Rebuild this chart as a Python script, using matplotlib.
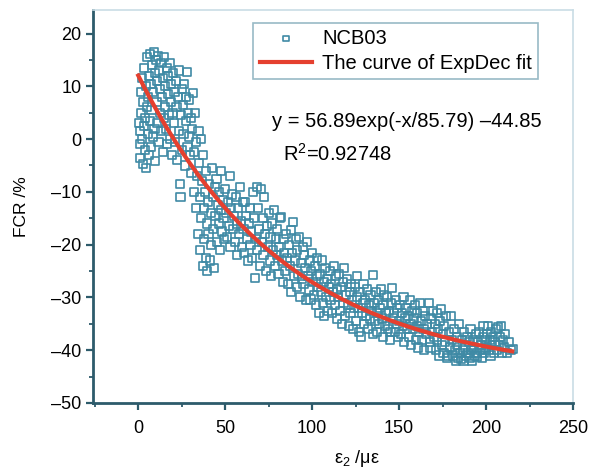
import numpy as np
import matplotlib
matplotlib.use('Agg')
import matplotlib.pyplot as plt
from matplotlib.ticker import MultipleLocator

plt.rcParams['font.family'] = ['Liberation Sans', 'DejaVu Sans']

x_pts = [
    0.5, 0.8, 1, 1.2, 1.5, 1.8, 2, 2.2, 2.5, 3, 3.2, 3.5, 3.8, 4, 4.3, 4.6, 4.8,
    5.2, 5.5, 5.8, 6, 6.3, 6.5, 6.8, 7, 7.3, 7.6, 8, 8.3, 8.6, 9, 9.3, 9.6, 9.8,
    10.2, 10.5, 10.8, 11, 11.3, 11.6, 12, 12.3, 12.6, 13, 13.3, 13.6, 14, 14.3, 14.7,
    15, 15.3, 15.6, 16, 16.3, 16.6, 17, 17.3, 17.6, 18, 18.4, 18.7, 19, 19.4, 19.7,
    20, 20.4, 20.8, 21.2, 21.6, 22, 22.4, 22.8, 23.2, 23.6, 24, 24.3, 24.6, 25, 25.3,
    25.7, 26, 26.4, 26.8, 27.2, 27.6, 28, 28.3, 28.7, 29, 29.4, 29.8,
    30.2, 30.6, 31, 31.4, 31.8, 32.2, 32.6, 33, 33.4, 33.8, 34.2, 34.6, 35,
    35.3, 35.6, 36, 36.3, 36.6, 37, 37.3, 37.6, 38, 38.3, 38.7, 39, 39.3, 39.7,
    40, 40.4, 40.8, 41.2, 41.6, 42, 42.4, 42.8, 43.2, 43.6, 44, 44.4,
    45, 45.4, 45.8, 46.2, 46.6, 47, 47.4, 47.8, 48.2, 48.6, 49, 49.5,
    50, 50.5, 51, 51.5, 52, 52.5, 53, 53.5, 54, 54.5,
    55, 55.5, 56, 56.5, 57, 57.5, 58, 58.5, 59, 59.5,
    60, 60.5, 61, 61.6, 62, 62.5, 63, 63.5, 64, 64.5,
    65, 65.5, 66, 66.5, 67, 67.5, 68, 68.5, 69, 69.5,
    70, 70.5, 71, 71.5, 72, 72.5, 73, 73.5, 74, 74.5,
    75, 75.6, 76, 76.5, 77, 77.5, 78, 78.5, 79, 79.5,
    80, 80.6, 81, 81.5, 82, 82.5, 83, 83.5, 84, 84.5,
    85, 85.5, 86, 86.5, 87, 87.6, 88, 88.5, 89, 89.5,
    90, 90.5, 91, 91.5, 92, 92.5, 93, 93.5, 94, 94.5,
    95, 95.5, 96, 96.5, 97, 97.5, 98, 98.5, 99, 99.5,
    100, 100.5, 101, 101.5, 102, 102.5, 103, 103.5, 104, 104.5,
    105, 105.5, 106, 106.6, 107, 107.5, 108, 108.5, 109, 109.5,
    110, 110.5, 111, 111.5, 112, 112.5, 113, 113.5, 114, 114.5,
    115, 115.5, 116, 116.5, 117, 117.5, 118, 118.5, 119, 119.5,
    120, 120.5, 121, 121.5, 122, 122.5, 123, 123.5, 124, 124.5,
    125, 125.5, 126, 126.5, 127, 127.5, 128, 128.5, 129, 129.5,
    130, 130.5, 131, 131.5, 132, 132.5, 133, 133.5, 134, 134.8,
    135, 135.5, 136, 136.5, 137, 137.5, 138, 138.5, 139, 139.5,
    140, 140.5, 141, 141.5, 142, 142.5, 143, 143.5, 144, 144.5,
    145, 145.5, 146, 146.5, 147, 147.5, 148, 148.5, 149, 149.5,
    150, 150.5, 151, 151.5, 152, 152.5, 153, 153.5, 154, 154.5,
    155, 155.5, 156, 156.5, 157, 157.5, 158, 158.5, 159, 159.5,
    160, 160.5, 161, 161.5, 162, 162.5, 163, 163.5, 164, 164.5,
    165, 165.5, 166, 167, 167.5, 168, 168.5, 169, 169.5,
    170, 170.5, 171, 171.5, 172, 172.5, 173, 173.5, 174, 174.5,
    175, 175.5, 176, 176.5, 177, 177.5, 178, 178.5, 179, 180,
    180.5, 181, 181.5, 182, 182.5, 183, 183.5, 184, 184.5, 185,
    185.5, 186, 186.5, 187, 187.5, 188, 188.5, 189, 189.5,
    190, 190.5, 191, 191.5, 192, 192.5, 193, 193.5, 194, 194.5,
    195, 195.5, 196, 196.5, 197, 197.5, 198, 198.5, 199, 199.5,
    200, 200.5, 201, 201.5, 202, 202.5, 203, 203.5, 204, 204.5,
    205, 205.5, 206, 207, 207.5, 208, 208.5, 209, 209.5,
    210.5, 211, 212, 213, 214, 215.5,
]
y_pts = [
    3, -1, 1.5, -3.5, 5, 9, 11.5, 0, -4.8, 7, 2.5, 13.5, -2, 4, 10, -5.5, 6,
    15.5, 1, 8, 12, -3, 3.5, 16.2, 10.5, -1.5, 5.5, 14, 0.5, 9, 16.5, 2, 12.5, -4.2,
    15, 7, 11, 3, 15.8, -0.5, 13, 5, 9.5, 1.5, 14.5, 8, -2.5, 11.5, 4,
    15.5, 6, 10, 2, 13.5, -1, 8.5, 12, 4.5, 14.5, 0, 7, 10.5, -3, 5,
    12.5, 3, 9, -0.5, 11, 6, -4, 8, 1.5, 13, -8.5, -11, 4.5, 9.5, -2,
    6.5, 1, 10.5, -5, 3.5, 8, 12.8, -1.5, 5, 0.5, 7.5, -3,
    4, -6.5, 2, 8.7, -2.5, -10, 5, -0.5, -13, -7, -18, 1.5, -4.5,
    -11, -21, 0, -15, -8, -24, -3, -13, -19, -10, -22.5, -6, -16, -25,
    -12, -18, -8.5, -23, -14, -20, -5.5, -11, -17, -24.5, -9, -14.5,
    -7.5, -19.5, -12.5, -16, -10, -21, -13.5, -6, -17.5, -11.5, -15, -19,
    -9.5, -14, -18.5, -12, -16.5, -7, -20.5, -13, -10.5, -17,
    -14.5, -19.5, -11, -16, -22, -13, -18, -9, -15.5, -20.5,
    -12, -17, -21.5, -12, -14.5, -19, -23, -16, -13, -20,
    -17.5, -22.5, -10, -15, -26.3, -19, -9, -21, -13, -17,
    -24, -9.5, -19.5, -15, -22, -11, -18, -25, -16.5, -20.5,
    -14, -23, -18.5, -26, -16, -21, -13.5, -24, -19, -22,
    -17, -25.5, -20.5, -15, -14.8, -23, -27, -19, -21.5, -25,
    -18, -22.5, -27.5, -20, -24, -17.3, -29, -21.5, -15.7, -26,
    -23, -19, -28, -21, -25.5, -18.5, -30, -23.5, -26.5, -20.5,
    -27.5, -22, -24.5, -30.5, -19.5, -26, -28.5, -23, -30.4, -25,
    -21.5, -27, -29.5, -24, -31.5, -26, -22.5, -28, -33, -25.5,
    -29, -23, -31, -33.6, -27, -24.5, -30, -26.5, -32.5, -28,
    -25, -30.5, -27.5, -33, -29, -24, -31.5, -26, -34, -28.5,
    -30, -25.5, -32.5, -28, -35, -27, -31, -24.5, -33.5, -29.5,
    -26.5, -31.5, -35.5, -29, -33, -27.5, -30.5, -36, -32, -28,
    -34.5, -30, -26, -32, -36.5, -29, -37.4, -33, -31, -27.5,
    -35, -30.5, -33.5, -28.5, -36, -31.5, -34, -29.5, -32.5, -25.7,
    -37, -31, -34.5, -29, -33, -36.5, -30.5, -35, -32, -28.5,
    -34, -37.5, -31.5, -29.5, -35.5, -33, -30, -36, -32.5, -38,
    -36.6, -31, -28.2, -34, -33, -36.5, -30.5, -35, -32, -37.5,
    -34.5, -31.5, -37, -33, -35.5, -30, -38.5, -34, -32, -36,
    -33.5, -37.5, -30.5, -35, -39, -32.5, -36, -34, -31.5, -38,
    -35.5, -33, -39.5, -36.5, -31, -34.5, -38, -32.5, -36, -40,
    -33.5, -37, -35, -31, -38.5, -39.5, -34, -36.5, -32.5,
    -37.5, -35, -40, -33, -38, -36, -41, -34.5, -32.3, -39,
    -37, -40.5, -35.5, -38.5, -33.5, -41.5, -41, -36.5, -39.5, -33.6,
    -38, -41, -36, -40, -42, -37.5, -39, -41.5, -35, -40.5,
    -41.7, -38, -40, -42, -36.5, -39.5, -41, -37.5, -40.5,
    -38.5, -41.5, -36, -40, -42, -38, -39.5, -41, -37, -40.5,
    -41.2, -38.5, -36.5, -40, -39, -41.5, -37.5, -35.5, -40.5, -38,
    -39.5, -37, -35.5, -40, -38, -41, -36.5, -39, -37.5, -40.5,
    -38.5, -36, -40, -35.7, -39, -37.5, -35.5, -40.5, -38,
    -39.5, -37, -40.5, -38.5, -40, -39.8,
]

# ExpDec fit parameters printed on the chart
A1 = 56.89
t1 = 85.79
y0 = -44.85
fit_x = np.linspace(0, 215, 200)
fit_y = A1 * np.exp(-fit_x / t1) + y0

fig = plt.figure(figsize=(5.89, 4.68), dpi=100)
ax = fig.add_axes([0.158, 0.139, 0.815, 0.840])

ax.scatter(x_pts, y_pts, s=34, marker='s', facecolors='none',
           edgecolors='#3f8aa5', linewidths=1.2, label='NCB03', zorder=2)
ax.plot(fit_x, fit_y, color='#e5402f', lw=3, label='The curve of ExpDec fit', zorder=3)

ax.set_xlim(-26, 250)
ax.set_ylim(-50, 24.5)
ax.xaxis.set_major_locator(MultipleLocator(50))
ax.xaxis.set_minor_locator(MultipleLocator(25))
ax.yaxis.set_major_locator(MultipleLocator(10))
ax.yaxis.set_minor_locator(MultipleLocator(5))

ax.set_xticks(range(0, 251, 50))
ax.set_xticklabels([str(v) for v in range(0, 251, 50)])
ax.set_yticks(range(-50, 21, 10))
ax.set_yticklabels([str(v).replace('-', '\u2013') for v in range(-50, 21, 10)])

for s in ['left', 'bottom']:
    ax.spines[s].set_color('#2d5b6b')
    ax.spines[s].set_linewidth(2)
for s in ['top', 'right']:
    ax.spines[s].set_color('#c9dde5')
    ax.spines[s].set_linewidth(1.2)

ax.tick_params(which='major', direction='out', length=5, width=1.6,
               color='#2d5b6b', labelsize=13, top=False, right=False)
ax.tick_params(axis='x', which='major', pad=7)
ax.tick_params(which='minor', direction='out', length=3, width=1.3,
               color='#2d5b6b', top=False, right=False)

ax.set_ylabel('FCR /%', fontsize=12.5)
ax.yaxis.set_label_coords(-0.133, 0.5)
ax.set_xlabel('$\\mathregular{\u03b5_2}$ /\u03bc\u03b5', fontsize=13)
ax.xaxis.set_label_coords(0.55, -0.115)

leg = ax.legend(loc='upper right', bbox_to_anchor=(0.935, 0.977), fontsize=14.5,
                frameon=True, fancybox=False, borderpad=0.3, labelspacing=0.3,
                handlelength=2.6, handletextpad=0.5, markerscale=0.7,
                borderaxespad=0.2)
leg.get_frame().set_edgecolor('#7fa9b8')
leg.get_frame().set_linewidth(1.2)

ax.text(77, 3.4, 'y = 56.89exp(-x/85.79) \u201344.85', fontsize=14.5, va='center')
ax.text(83, -2.8, '$\\mathregular{R^2}$=0.92748', fontsize=14.5, va='center')

fig.savefig('out.png', dpi=100)
